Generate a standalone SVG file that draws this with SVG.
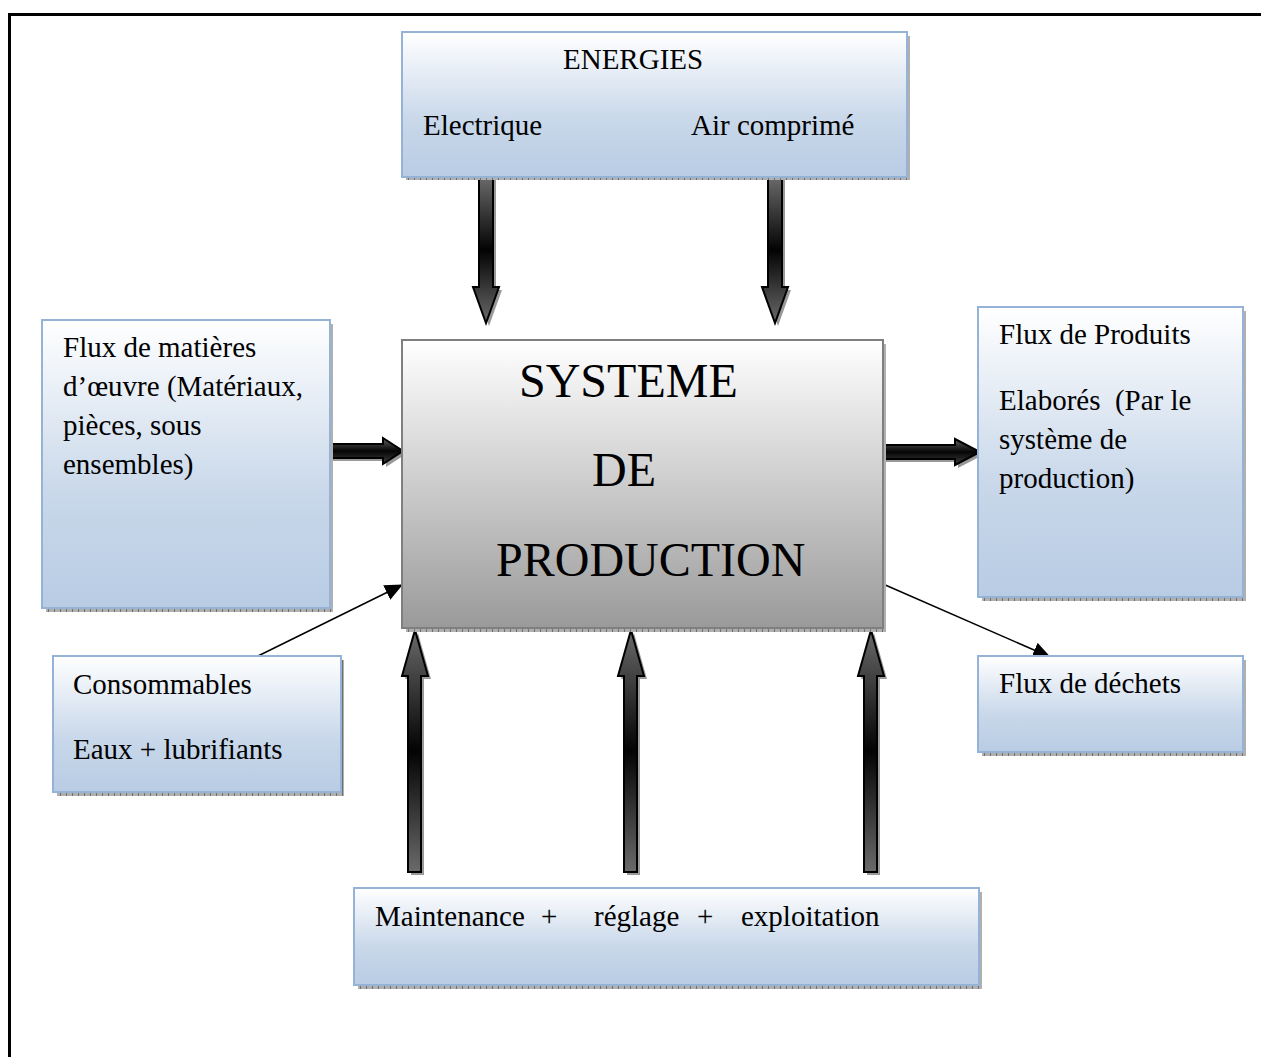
<svg xmlns="http://www.w3.org/2000/svg" width="1261" height="1057" viewBox="0 0 1261 1057">
<style>
.t{font-family:"Liberation Serif","Times New Roman",serif;font-size:29px;fill:#000}
.big{font-family:"Liberation Serif","Times New Roman",serif;font-size:48px;fill:#000}
.box{fill:url(#blue);stroke:#95b3d7;stroke-width:2}
.shadow{fill:url(#hatch)}
.arr{stroke:#000;stroke-width:2;stroke-linejoin:miter}
.ashadow{fill:#808080;opacity:0.8}
.thin{stroke:#000;stroke-width:1.5;fill:none}
</style>
<defs>
<linearGradient id="blue" x1="0" y1="0" x2="0" y2="1">
<stop offset="0" stop-color="#ffffff"/>
<stop offset="0.6" stop-color="#c9d8ea"/>
<stop offset="1" stop-color="#b8cce4"/>
</linearGradient>
<linearGradient id="gray" x1="0" y1="0" x2="0" y2="1">
<stop offset="0" stop-color="#ffffff"/>
<stop offset="1" stop-color="#9a9a9a"/>
</linearGradient>
<linearGradient id="av" x1="0" y1="0" x2="0" y2="1">
<stop offset="0" stop-color="#6a6a6a"/>
<stop offset="0.5" stop-color="#030303"/>
<stop offset="1" stop-color="#6a6a6a"/>
</linearGradient>
<linearGradient id="ah" x1="0" y1="0" x2="0" y2="1">
<stop offset="0" stop-color="#606060"/>
<stop offset="0.5" stop-color="#050505"/>
<stop offset="1" stop-color="#404040"/>
</linearGradient>
<pattern id="hatch" width="6" height="6" patternUnits="userSpaceOnUse">
<rect width="6" height="6" fill="#b0b0b0"/>
<rect width="1" height="6" fill="#6f6f6f"/>
</pattern>
<marker id="head" markerUnits="userSpaceOnUse" markerWidth="18" markerHeight="16" refX="17" refY="8" orient="auto">
<path d="M0,0 L18,8 L0,16 Z" fill="#000"/>
</marker>
</defs>
<rect width="1261" height="1057" fill="#fff"/>
<path d="M9.5,1057 V14.5 H1261" fill="none" stroke="#000" stroke-width="3"/>

<g id="connectors">
<g id="arrow-elec">
<path class="ashadow" transform="translate(3,3)" d="M479,177 H493 V287 H499 L486,323 L473,287 H479 Z"/>
<path class="arr" fill="url(#av)" d="M479,177 H493 V287 H499 L486,323 L473,287 H479 Z"/>
</g>
<g id="arrow-air">
<path class="ashadow" transform="translate(3,3)" d="M768,177 H782 V287 H788 L775,323 L762,287 H768 Z"/>
<path class="arr" fill="url(#av)" d="M768,177 H782 V287 H788 L775,323 L762,287 H768 Z"/>
</g>
<g id="arrow-matieres">
<path class="ashadow" transform="translate(3,3)" d="M330,444 H383 V438 L403,451 L383,464 V458 H330 Z"/>
<path class="arr" fill="url(#ah)" d="M330,444 H383 V438 L403,451 L383,464 V458 H330 Z"/>
</g>
<g id="arrow-produits">
<path class="ashadow" transform="translate(3,3)" d="M883,445 H955 V439 L980,452 L955,465 V459 H883 Z"/>
<path class="arr" fill="url(#ah)" d="M883,445 H955 V439 L980,452 L955,465 V459 H883 Z"/>
</g>
<g id="arrow-up1">
<path class="ashadow" transform="translate(3,3)" d="M408,872 H421 V676 H428 L415,630 L402,676 H408 Z"/>
<path class="arr" fill="url(#av)" d="M408,872 H421 V676 H428 L415,630 L402,676 H408 Z"/>
</g>
<g id="arrow-up2">
<path class="ashadow" transform="translate(3,3)" d="M624,872 H637 V676 H644 L631,630 L618,676 H624 Z"/>
<path class="arr" fill="url(#av)" d="M624,872 H637 V676 H644 L631,630 L618,676 H624 Z"/>
</g>
<g id="arrow-up3">
<path class="ashadow" transform="translate(3,3)" d="M864,872 H877 V676 H884 L871,630 L858,676 H864 Z"/>
<path class="arr" fill="url(#av)" d="M864,872 H877 V676 H884 L871,630 L858,676 H864 Z"/>
</g>
<line class="thin" x1="258" y1="656" x2="402" y2="585" marker-end="url(#head)"/>
<line class="thin" x1="883" y1="584" x2="1050" y2="657" marker-end="url(#head)"/>
</g>

<g id="energies">
<rect class="shadow" x="406" y="36" width="504" height="144"/>
<rect class="box" x="402" y="32" width="505" height="145"/>
<text class="t" x="563" y="69">ENERGIES</text>
<text class="t" x="423" y="135">Electrique</text>
<text class="t" x="691" y="135">Air comprimé</text>
</g>

<g id="systeme">
<rect class="shadow" x="406" y="344" width="480" height="288"/>
<rect x="402" y="340" width="481" height="288" fill="url(#gray)" stroke="#7f7f7f" stroke-width="2"/>
<text class="big" x="519" y="397">SYSTEME</text>
<text class="big" x="592" y="486">DE</text>
<text class="big" x="496" y="576">PRODUCTION</text>
</g>

<g id="matieres">
<rect class="shadow" x="46" y="324" width="287" height="288"/>
<rect class="box" x="42" y="320" width="288" height="288"/>
<text class="t" x="63" y="357">Flux de matières</text>
<text class="t" x="63" y="396">d’œuvre (Matériaux,</text>
<text class="t" x="63" y="435">pièces, sous</text>
<text class="t" x="63" y="474">ensembles)</text>
</g>

<g id="produits">
<rect class="shadow" x="982" y="311" width="264" height="290"/>
<rect class="box" x="978" y="307" width="265" height="290"/>
<text class="t" x="999" y="344">Flux de Produits</text>
<text class="t" x="999" y="410" xml:space="preserve">Elaborés  (Par le</text>
<text class="t" x="999" y="449">système de</text>
<text class="t" x="999" y="488">production)</text>
</g>

<g id="consommables">
<rect class="shadow" x="57" y="660" width="287" height="136"/>
<rect class="box" x="53" y="656" width="288" height="136"/>
<text class="t" x="73" y="694">Consommables</text>
<text class="t" x="73" y="759">Eaux + lubrifiants</text>
</g>

<g id="dechets">
<rect class="shadow" x="982" y="660" width="264" height="96"/>
<rect class="box" x="978" y="656" width="265" height="96"/>
<text class="t" x="999" y="693">Flux de déchets</text>
</g>

<g id="maintenance">
<rect class="shadow" x="358" y="892" width="624" height="97"/>
<rect class="box" x="354" y="888" width="625" height="97"/>
<text class="t" y="926"><tspan x="375">Maintenance</tspan><tspan x="541">+</tspan><tspan x="594">réglage</tspan><tspan x="697">+</tspan><tspan x="741">exploitation</tspan></text>
</g>
</svg>
